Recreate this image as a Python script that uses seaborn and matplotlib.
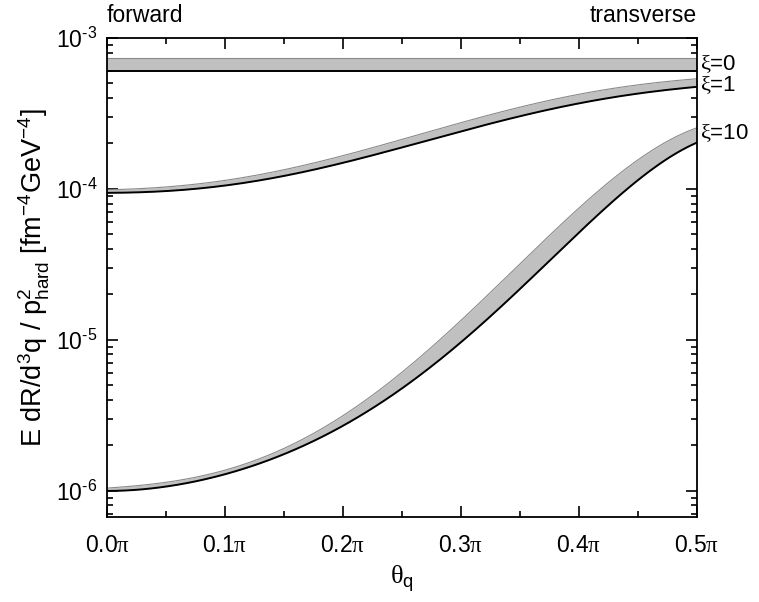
import numpy as np
import pandas as pd
import matplotlib
matplotlib.use("Agg")
import matplotlib.pyplot as plt
import matplotlib.ticker as mticker
import seaborn as sns

# theta_q in units of pi
theta = [0.0, 0.05, 0.10, 0.15, 0.20, 0.25, 0.30, 0.35, 0.40, 0.45, 0.50]

# lower (black) edge and upper (grey) edge of each band
xi0_lo = [6.0e-4] * 11
xi0_hi = [7.4e-4] * 11
xi1_lo = [9.4e-5, 9.7e-5, 1.06e-4, 1.2e-4, 1.49e-4, 1.9e-4, 2.42e-4, 3.0e-4, 3.66e-4, 4.33e-4, 4.73e-4]
xi1_hi = [9.85e-5, 1.03e-4, 1.15e-4, 1.32e-4, 1.66e-4, 2.14e-4, 2.78e-4, 3.44e-4, 4.2e-4, 4.95e-4, 5.35e-4]
xi10_lo = [1.0e-6, 1.05e-6, 1.32e-6, 1.73e-6, 2.65e-6, 4.8e-6, 9.8e-6, 2.14e-5, 5.1e-5, 1.15e-4, 2.02e-4]
xi10_hi = [1.05e-6, 1.10e-6, 1.42e-6, 1.93e-6, 3.04e-6, 6.04e-6, 1.38e-5, 3.18e-5, 7.38e-5, 1.56e-4, 2.54e-4]

band_labels = ["$\\mathsf{\\xi}$=0", "$\\mathsf{\\xi}$=1", "$\\mathsf{\\xi}$=10"]
x_ticks = [0.0, 0.1, 0.2, 0.3, 0.4, 0.5]
x_ticklabels = [f"{t:.1f}$\\mathsf{{\\pi}}$" for t in x_ticks]

sns.set_style("ticks")
plt.rcParams["font.family"] = ["Liberation Sans", "DejaVu Sans"]
plt.rcParams["mathtext.fontset"] = "custom"
plt.rcParams["mathtext.rm"] = "Liberation Sans"
plt.rcParams["mathtext.it"] = "Liberation Sans"
plt.rcParams["mathtext.sf"] = "Liberation Serif"
for k in ["text.color", "axes.labelcolor", "xtick.color", "ytick.color", "axes.edgecolor"]:
    plt.rcParams[k] = "black"

# smooth the read-off points in log space for drawing
fine = np.linspace(0, 0.5, 201)
def smooth(vals):
    c = np.polyfit(theta, np.log10(vals), 5)
    return 10 ** np.polyval(c, fine)

bands = [(xi0_lo, xi0_hi), (xi1_lo, xi1_hi), (xi10_lo, xi10_hi)]

fig = plt.figure(figsize=(7.59, 6.02), dpi=100)
ax = fig.add_axes([0.141, 0.1412, 0.777, 0.7957])

for lo, hi in bands:
    lo_s, hi_s = smooth(lo), smooth(hi)
    ax.fill_between(fine, lo_s, hi_s, color="#c0c0c0", lw=0)
    df = pd.DataFrame({"theta": fine, "lo": lo_s, "hi": hi_s})
    sns.lineplot(data=df, x="theta", y="hi", ax=ax, color="#8a8a8a", lw=0.8)
    sns.lineplot(data=df, x="theta", y="lo", ax=ax, color="black", lw=1.4)

ax.set_yscale("log")
ax.set_xlim(0, 0.5)
ax.set_ylim(6.7e-7, 1e-3)

ax.set_xticks(x_ticks)
ax.set_xticklabels(x_ticklabels)
ax.xaxis.set_minor_locator(mticker.MultipleLocator(0.05))
ax.yaxis.set_major_locator(mticker.LogLocator(base=10, numticks=10))
ax.yaxis.set_minor_locator(mticker.LogLocator(base=10, subs=np.arange(2, 10), numticks=10))
ax.yaxis.set_minor_formatter(mticker.NullFormatter())
ax.yaxis.set_major_formatter(mticker.FuncFormatter(
    lambda v, p: f"10$^{{\\text{{{int(round(np.log10(v)))}}}}}$"))

ax.tick_params(which="both", direction="in", top=True, right=True, labelsize=16.5, width=1.2)
ax.tick_params(which="major", length=8)
ax.tick_params(axis="x", which="major", pad=12)
ax.tick_params(axis="y", which="major", pad=7)
ax.tick_params(which="minor", length=4.5)
for s in ax.spines.values():
    s.set_linewidth(1.3)

ax.set_xlabel("$\\mathsf{\\theta}_{\\rm q}$", fontsize=19, labelpad=5)
ax.set_ylabel("E dR/d$^3$q / p$^2_{\\rm hard}$ [fm$^{-4}$GeV$^{-4}$]", fontsize=19.5, labelpad=3)

ax.text(0.0, 1.022, "forward", transform=ax.transAxes, fontsize=16.5, ha="left", va="bottom")
ax.text(1.0, 1.022, "transverse", transform=ax.transAxes, fontsize=16.5, ha="right", va="bottom")

label_y = [6.75e-4, 4.85e-4, 2.35e-4]
for lab, yv in zip(band_labels, label_y):
    ax.text(1.006, yv, lab, transform=ax.get_yaxis_transform(), fontsize=16,
            ha="left", va="center")

fig.savefig("out.png", dpi=100)
